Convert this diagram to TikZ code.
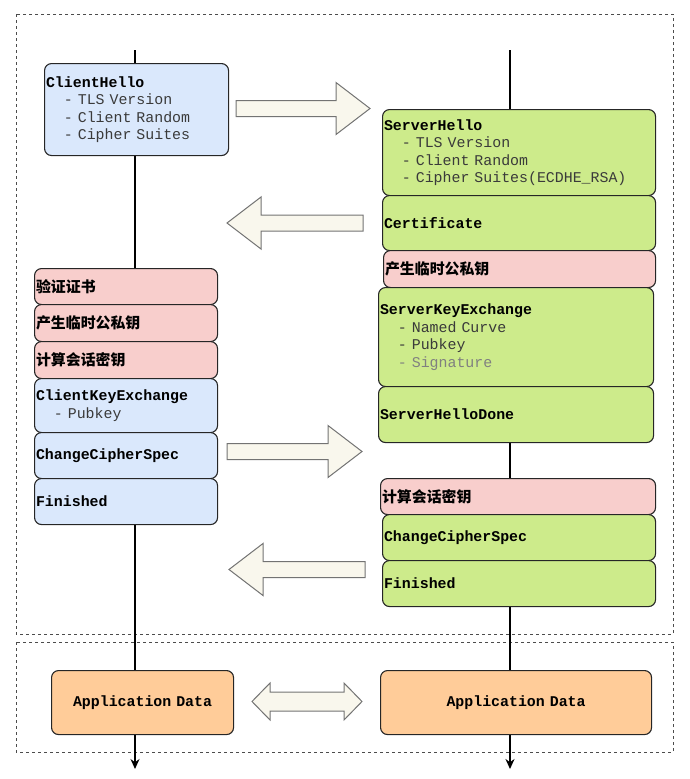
\documentclass[tikz,border=0pt]{standalone}
\usepackage{fontspec}
\setmonofont{Liberation Mono}
\newfontfamily\cjk{Noto Sans CJK SC}
\usepackage{xcolor}
\usepackage{tikz}
\usetikzlibrary{arrows.meta}
\definecolor{cliblue}{HTML}{DAE8FC}
\definecolor{srvgreen}{HTML}{CDEB8B}
\definecolor{calcpink}{HTML}{F8CECC}
\definecolor{appsand}{HTML}{FFCC99}
\definecolor{arrowfill}{HTML}{F9F7ED}
\definecolor{itemgray}{HTML}{3A3A3A}
\newcommand{\boxfont}{\fontsize{14.9}{17.4}\selectfont\ttfamily}
\newcommand{\itm}[1]{\\\phantom{00}{\color{itemgray}- #1}}
\newcommand{\fatarrow}[3]% tail x, tip x, mid y
	{
	\pgfmathsetmacro{\arrhd}{sign(#2-#1)*34}
	\draw[bigarrow] (#1,#3-8) -- ({#2-\arrhd},#3-8) -- ({#2-\arrhd},#3-26) -- (#2,#3)
	  -- ({#2-\arrhd},#3+26) -- ({#2-\arrhd},#3+8) -- (#1,#3+8) -- cycle;
	}
\tikzset{
  msg/.style={draw=black!85, line width=1.1pt, rounded corners=7pt, anchor=north west,
    align=left, inner xsep=1.5pt, inner ysep=0pt, font=\boxfont},
  app/.style={msg, align=center},
  frame/.style={draw=black!70, dashed, line width=0.8pt},
  life/.style={line width=1.5pt, -{Stealth[length=10pt,width=9pt]}},
  bigarrow/.style={draw=black!55, line width=1pt, fill=arrowfill},
}
\begin{document}
\begin{tikzpicture}[x=1pt,y=-1pt]
\useasboundingbox (0,0) rectangle (690,779);

       % phases
       \draw[frame] (16,14) rectangle (673,634);
       \draw[frame] (16,642) rectangle (673,752);

       % lifelines
       \coordinate (ctop) at (135,50);
       \coordinate (cbot) at (135,769);
       \coordinate (stop) at (510,50);
       \coordinate (sbot) at (510,769);
       \draw[life] (ctop) -- (cbot);
       \draw[life] (stop) -- (sbot);

       % client side
       \node[msg, fill=cliblue, text width=181pt, minimum height=92pt] (hello) at (44,63)
         {\textbf{ClientHello}\itm{TLS Version}\itm{Client Random}\itm{Cipher Suites}};

       \node[msg, fill=calcpink, text width=180pt, minimum height=36pt] (verify) at (34,268)
         {\cjk\bfseries 验证证书};
       \node[msg, fill=calcpink, text width=180pt, minimum height=37pt] (cgen) at (34,304)
         {\cjk\bfseries 产生临时公私钥};
       \node[msg, fill=calcpink, text width=180pt, minimum height=37pt] (ccalc) at (34,341)
         {\cjk\bfseries 计算会话密钥};
       \node[msg, fill=cliblue, text width=180pt, minimum height=54pt] (ckex) at (34,378)
         {\textbf{ClientKeyExchange}\itm{Pubkey}};
       \node[msg, fill=cliblue, text width=180pt, minimum height=46pt] (cccs) at (34,432)
         {\textbf{ChangeCipherSpec}};
       \node[msg, fill=cliblue, text width=180pt, minimum height=46pt] (cfin) at (34,478)
         {\textbf{Finished}};

       % server side
       \node[msg, fill=srvgreen, text width=270pt, minimum height=86pt] (shello) at (382,109)
         {\textbf{ServerHello}\itm{TLS Version}\itm{Client Random}\itm{Cipher Suites(ECDHE\_RSA)}};
       \node[msg, fill=srvgreen, text width=270pt, minimum height=55pt] (cert) at (382,195)
         {\textbf{Certificate}};
       \node[msg, fill=calcpink, text width=269pt, minimum height=37pt] (sgen) at (383,250)
         {\cjk\bfseries 产生临时公私钥};
       \node[msg, fill=srvgreen, text width=272pt, minimum height=99pt] (skex) at (378,287)
         {\textbf{ServerKeyExchange}\itm{Named Curve}\itm{Pubkey}\\\phantom{00}{\color{black!50}- Signature}};
       \node[msg, fill=srvgreen, text width=272pt, minimum height=56pt] (sdone) at (378,386)
         {\textbf{ServerHelloDone}};

       \node[msg, fill=calcpink, text width=272pt, minimum height=36pt] (scalc) at (380,478)
         {\cjk\bfseries 计算会话密钥};
       \node[msg, fill=srvgreen, text width=270pt, minimum height=46pt] (sccs) at (382,514)
         {\textbf{ChangeCipherSpec}};
       \node[msg, fill=srvgreen, text width=270pt, minimum height=46pt] (sfin) at (382,560)
         {\textbf{Finished}};

       % application data
       \node[app, fill=appsand, text width=179pt, minimum height=64pt] (capp) at (51,670)
         {\textbf{Application Data}};
       \node[app, fill=appsand, text width=268pt, minimum height=64pt] (sapp) at (380,670)
         {\textbf{Application Data}};

       % messages
       \fatarrow{236}{370}{108.5}
       \fatarrow{363}{227}{223}
       \fatarrow{227}{362}{451.5}
       \fatarrow{365}{229}{569.5}

       \draw[bigarrow] (252,701.5) -- (270,683) -- (270,692) -- (344,692) -- (344,683) -- (362,701.5)
         -- (344,720) -- (344,711) -- (270,711) -- (270,720) -- cycle;
\end{tikzpicture}
\end{document}
